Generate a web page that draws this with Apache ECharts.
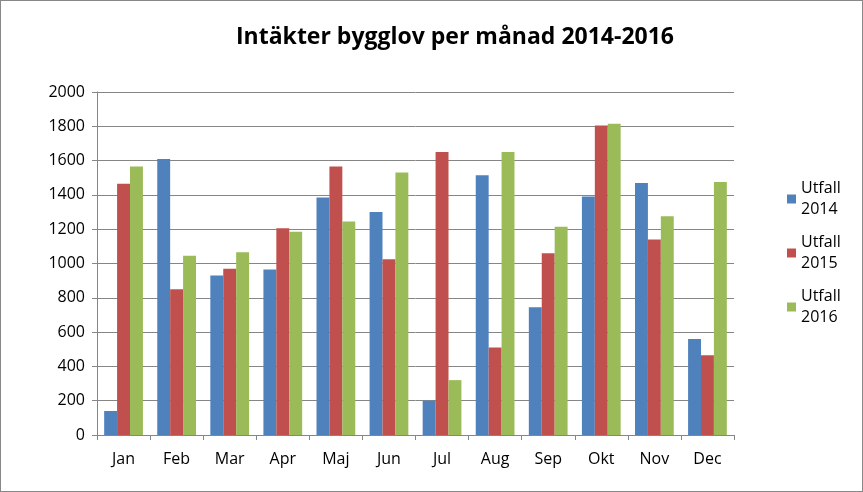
<!DOCTYPE html>
<html>
<head>
<meta charset="UTF-8">
<script src="https://cdn.jsdelivr.net/npm/echarts@6/dist/echarts.min.js"></script>
<style>
html, body {margin: 0; padding: 0; background: #fff;}
#main {width: 861px; height: 490px; border: 1px solid #888;}
</style>
</head>
<body>
<div id="main"></div>
<script>
var months = ['Jan', 'Feb', 'Mar', 'Apr', 'Maj', 'Jun', 'Jul', 'Aug', 'Sep', 'Okt', 'Nov', 'Dec'];
var utfall2014 = [140, 1610, 930, 965, 1385, 1300, 200, 1515, 745, 1390, 1470, 560];
var utfall2015 = [1465, 850, 970, 1205, 1565, 1025, 1650, 510, 1060, 1805, 1140, 465];
var utfall2016 = [1565, 1045, 1065, 1185, 1245, 1530, 320, 1650, 1215, 1815, 1275, 1475];

var chart = echarts.init(document.getElementById('main'));
var font = 'Open Sans';

function bar(name, data, color) {
    return {
        name: name, type: 'bar', data: data,
        barGap: '0%', barCategoryGap: '27%',
        itemStyle: {color: color}
    };
}

chart.setOption({
    animation: false,
    textStyle: {fontFamily: font},
    title: {
        text: 'Intäkter bygglov per månad 2014-2016',
        left: 449, top: 20, textAlign: 'center',
        textStyle: {fontSize: 23, fontWeight: 'bold', color: '#000', fontFamily: font}
    },
    legend: {
        orient: 'vertical', left: 781, top: 172,
        itemWidth: 9, itemHeight: 9, itemGap: 12,
        icon: 'rect',
        textStyle: {fontSize: 16, color: '#000', lineHeight: 21},
        formatter: function (n) { return n.replace(' ', '\n'); }
    },
    grid: {left: 96, right: 128, top: 91, bottom: 56},
    xAxis: {
        type: 'category', data: months,
        axisLine: {lineStyle: {color: '#868686'}},
        axisTick: {show: true, lineStyle: {color: '#868686'}},
        axisLabel: {color: '#000', fontSize: 16, margin: 16}
    },
    yAxis: {
        type: 'value', min: 0, max: 2000, interval: 200,
        axisLine: {show: true, lineStyle: {color: '#868686'}},
        axisTick: {show: true, lineStyle: {color: '#868686'}},
        axisLabel: {color: '#000', fontSize: 16, margin: 12, formatter: function (v) { return String(v); }},
        splitLine: {lineStyle: {color: '#868686'}}
    },
    series: [
        bar('Utfall 2014', utfall2014, '#4F81BD'),
        bar('Utfall 2015', utfall2015, '#C0504D'),
        bar('Utfall 2016', utfall2016, '#9BBB59')
    ]
});
</script>
</body>
</html>
